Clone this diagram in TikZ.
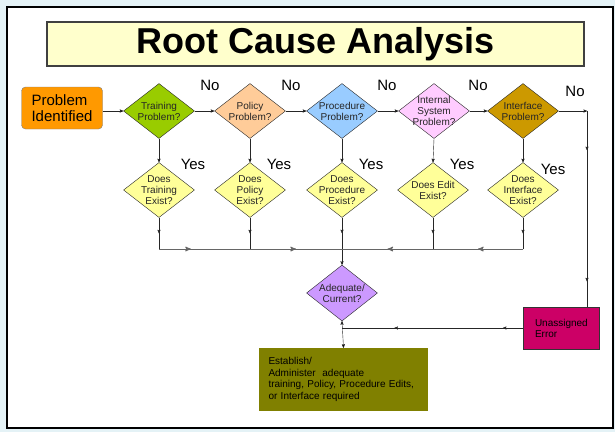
\documentclass[tikz,border=0pt]{standalone}
\usepackage{fontspec}
\setmainfont{Liberation Sans}
\usetikzlibrary{arrows,shapes.geometric,decorations.markings}

\definecolor{bgblue}{RGB}{228,242,246}
\definecolor{titlefill}{RGB}{255,255,204}
\definecolor{probfill}{RGB}{255,153,0}
\definecolor{trainfill}{RGB}{153,204,0}
\definecolor{policyfill}{RGB}{255,204,153}
\definecolor{procfill}{RGB}{153,204,255}
\definecolor{sysfill}{RGB}{255,204,255}
\definecolor{ifacefill}{RGB}{204,153,0}
\definecolor{existfill}{RGB}{255,255,153}
\definecolor{adeqfill}{RGB}{204,153,255}
\definecolor{errfill}{RGB}{204,0,102}
\definecolor{estfill}{RGB}{128,128,0}

\tikzset{
    decision/.style = {diamond,
                    draw=black!85,
                    aspect=1.29,
                    inner sep=0pt,
                    minimum width=71pt,
                    minimum height=55pt},
    qtext/.style =  {align=center,
                    text=black!85,
                    inner sep=0pt,
                    font=\fontsize{10}{11}\selectfont},
    answer/.style = {font=\fontsize{15}{16}\selectfont,
                    inner sep=0pt},
    block/.style =  {rectangle,
                    draw=black!80,
                    align=left,
                    inner sep=0pt},
    -,
    midarrow/.style = {postaction={decorate},
                    decoration={markings,
                    mark=at position #1 with {\arrow{stealth'}}}},
    midarrow/.default=0.5,
    twoarrows/.style 2 args = {postaction={decorate},
                    decoration={markings,
                    mark=at position #1 with {\arrow{stealth'}},
                    mark=at position #2 with {\arrow{stealth'}}}},
    >=stealth'}

\begin{document}
\begin{tikzpicture}[x=1pt,y=-1pt]
                % page and frame
                \fill[bgblue] (0,0) rectangle (615,432);
                \draw[fill=white, line width=1.5pt] (7,7) rectangle (613,428);

                \node[rectangle, draw=black!75, line width=1.6pt, fill=titlefill,
                      minimum width=537pt, minimum height=44pt,
                      font=\bfseries\fontsize{36}{40}\selectfont]  (title) at (315.5,44)  {Root Cause Analysis};

                % first row
                \node[block, rounded corners=4pt, fill=probfill, draw=black!50,
                      minimum width=81pt, minimum height=42pt,
                      font=\fontsize{15}{16}\selectfont]  (P) at (62,108)  {Problem\\Identified};
                \node[decision, fill=trainfill,  label={[qtext]center:Training\\Problem?}]            (T1) at (159,111) {};
                \node[decision, fill=policyfill, label={[qtext]center:Policy\\Problem?}]              (T2) at (250,111) {};
                \node[decision, fill=procfill,   label={[qtext]center:Procedure\\Problem?}]           (T3) at (342,111) {};
                \node[decision, fill=sysfill,    label={[qtext]center:Internal\\System\\Problem?}]    (T4) at (434,111) {};
                \node[decision, fill=ifacefill,  label={[qtext]center:Interface\\Problem?}]           (T5) at (523,111) {};

                % second row
                \node[decision, fill=existfill, label={[qtext]center:Does\\Training\\Exist?}]   (E1) at (159,190) {};
                \node[decision, fill=existfill, label={[qtext]center:Does\\Policy\\Exist?}]     (E2) at (250,190) {};
                \node[decision, fill=existfill, label={[qtext]center:Does\\Procedure\\Exist?}]  (E3) at (342,190) {};
                \node[decision, fill=existfill, label={[qtext]center:Does Edit\\Exist?}]        (E4) at (433,190) {};
                \node[decision, fill=existfill, label={[qtext]center:Does\\Interface\\Exist?}]  (E5) at (523,190) {};

                % bottom
                \node[decision, fill=adeqfill, minimum height=56pt,
                      label={[qtext]center:Adequate/\\Current?}]  (A) at (342,293) {};
                \node[block, fill=estfill, draw=none, text width=150pt,
                      minimum width=169pt, minimum height=63pt,
                      font=\fontsize{10}{11.5}\selectfont]  (S) at (343.5,379.5)
                      {Establish/\\Administer~~adequate\\training, Policy, Procedure Edits,\\or Interface required};
                \node[block, fill=errfill, text width=52pt,
                      minimum width=76pt, minimum height=42pt,
                      font=\fontsize{10}{11}\selectfont]  (U) at (561,328)  {Unassigned\\Error};

                % answers
                \node[answer] (n1) at (210,85) {No};
                \node[answer] (n2) at (291,85) {No};
                \node[answer] (n3) at (387,85) {No};
                \node[answer] (n4) at (478,85) {No};
                \node[answer] (n5) at (575,91) {No};
                \node[answer] (y1) at (193,164) {Yes};
                \node[answer] (y2) at (279,164) {Yes};
                \node[answer] (y3) at (371,164) {Yes};
                \node[answer] (y4) at (462,164) {Yes};
                \node[answer] (y5) at (553,169) {Yes};

                % junctions
                \coordinate (C)  at (587,111);
                \coordinate (J1) at (159,249);
                \coordinate (J2) at (250,249);
                \coordinate (J3) at (342,249);
                \coordinate (J4) at (433,249);
                \coordinate (J5) at (523,249);
                \coordinate (M)  at (342,328);

                \path [draw=black!85, ->]  (P.east |- T1.west) edge (T1.west)
                                        (T1.east) edge (T2.west)
                                        (T2.east) edge (T3.west)
                                        (T3.east) edge (T4.west)
                                        (T4.east) edge (T5.west)
                                        (T5.east) edge (C)
                                        (T1.south) edge (E1.north)
                                        (T2.south) edge (E2.north)
                                        (T3.south) edge (E3.north)
                                        (T4.south) edge (E4.north)
                                        (T5.south) edge (E5.north)
                                        (A.south)  edge (S.north);
                \draw[black!85, twoarrows={0.2}{0.87}] (C) -- (C |- U.north);
                \draw[black!85, midarrow] (E1.south) -- (J1);
                \draw[black!85, midarrow] (E2.south) -- (J2);
                \draw[black!85, midarrow] (E4.south) -- (J4);
                \draw[black!85, midarrow] (E5.south) -- (J5);
                \draw[black!85, ->, midarrow=0.33] (E3.south) -- (A.north);
                \draw[black!60, line width=1pt, midarrow=0.35] (J1) -- (J2);
                \draw[black!60, line width=1pt, midarrow] (J2) -- (J3);
                \draw[black!60, line width=1pt, midarrow] (J5) -- (J4);
                \draw[black!60, line width=1pt, midarrow] (J4) -- (J3);
                \draw[black!85, twoarrows={0.11}{0.71}] (U.west) -- (M);
        \end{tikzpicture}
\end{document}
